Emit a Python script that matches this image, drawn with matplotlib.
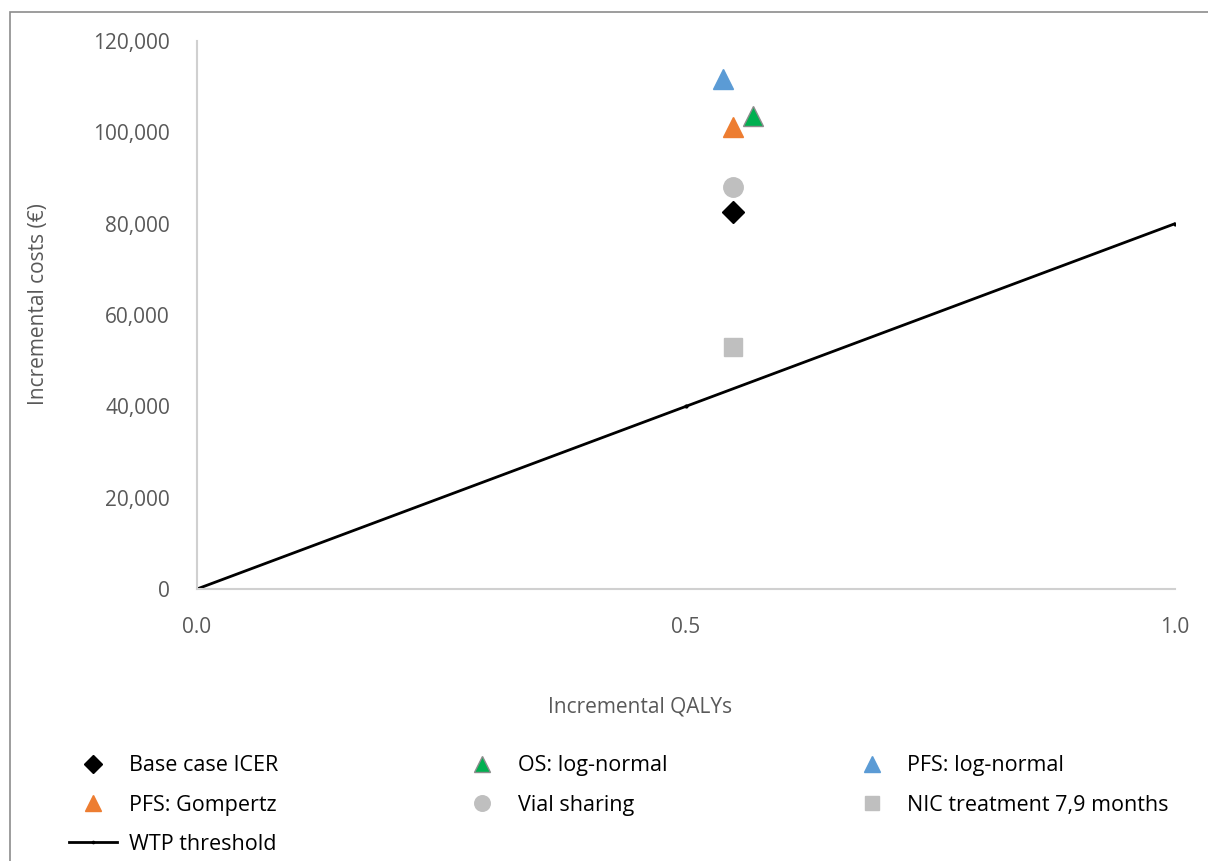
import matplotlib
matplotlib.use("Agg")
import matplotlib.pyplot as plt
from matplotlib.patches import Rectangle
import numpy as np

plt.rcParams['font.family'] = ['Open Sans', 'DejaVu Sans']

# data
labels = ['Base case ICER', 'OS: log-normal', 'PFS: log-normal',
          'PFS: Gompertz', 'Vial sharing', 'NIC treatment 7,9 months']
qalys = [0.548, 0.569, 0.538, 0.548, 0.548, 0.548]
costs = [82500, 103600, 111700, 101200, 88000, 53000]

wtp_x = [0.0, 0.5, 1.0]
wtp_y = [0, 40000, 80000]

markers = ['D', '^', '^', '^', 'o', 's']
colors = ['black', '#00B050', '#5B9BD5', '#ED7D31', '#BFBFBF', '#BFBFBF']
edges = ['black', '#8C8C8C', '#5B9BD5', '#ED7D31', '#BFBFBF', '#BFBFBF']
msizes = [11, 14, 14, 14, 14, 13]

txt = '#595959'

fig = plt.figure(figsize=(12.08, 8.61), dpi=100)
fig.patches.append(Rectangle((10/1208, -0.1), 1.2, 1 - 12/861 + 0.1,
                             transform=fig.transFigure, fill=False,
                             edgecolor='#8C8C8C', linewidth=1.2))
ax = fig.add_axes([197/1208, 1 - 589/861, 978/1208, 548/861])

h = {}
h['wtp'], = ax.plot(wtp_x, wtp_y, color='black', lw=2, marker='o', ms=2,
                    label='WTP threshold', zorder=2)
for i in range(len(labels)):
    h[labels[i]], = ax.plot(qalys[i], costs[i], linestyle='none', marker=markers[i],
                            ms=msizes[i], mfc=colors[i], mec=edges[i], mew=1,
                            label=labels[i], zorder=3)

ax.set_xlim(0, 1.0)
ax.set_ylim(0, 120000)
ax.set_xticks([0, 0.5, 1.0])
ax.set_xticklabels(['0.0', '0.5', '1.0'])
ax.set_yticks(np.arange(0, 120001, 20000))
ax.set_yticklabels(['{:,}'.format(v) for v in range(0, 120001, 20000)])
ax.tick_params(length=0, labelsize=15, colors=txt)
ax.tick_params(axis='y', pad=19.5)
ax.tick_params(axis='x', pad=20)
for s in ['top', 'right']:
    ax.spines[s].set_visible(False)
for s in ['left', 'bottom']:
    ax.spines[s].set_color('#D0D0D0')
    ax.spines[s].set_linewidth(1.5)

ax.set_ylabel('Incremental costs (€)', fontsize=15, color=txt)
ax.yaxis.set_label_coords(-0.151, 0.52)
fig.text(640/1208, 1 - 707/861, 'Incremental QALYs', fontsize=15, color=txt,
         ha='center', va='center')

order = ['Base case ICER', 'PFS: Gompertz', 'wtp', 'OS: log-normal',
         'Vial sharing', 'PFS: log-normal', 'NIC treatment 7,9 months']
leg = fig.legend([h[k] for k in order], [h[k].get_label() for k in order],
                 ncol=3, loc='upper left', bbox_to_anchor=(50/1208, 1 - 736/861),
                 frameon=False, fontsize=15.5, markerscale=0.8,
                 columnspacing=8.4, handletextpad=0.55, labelspacing=0.85,
                 handlelength=2.2)
for t in leg.get_texts():
    t.set_color('black')

fig.savefig('out.png', dpi=100)
